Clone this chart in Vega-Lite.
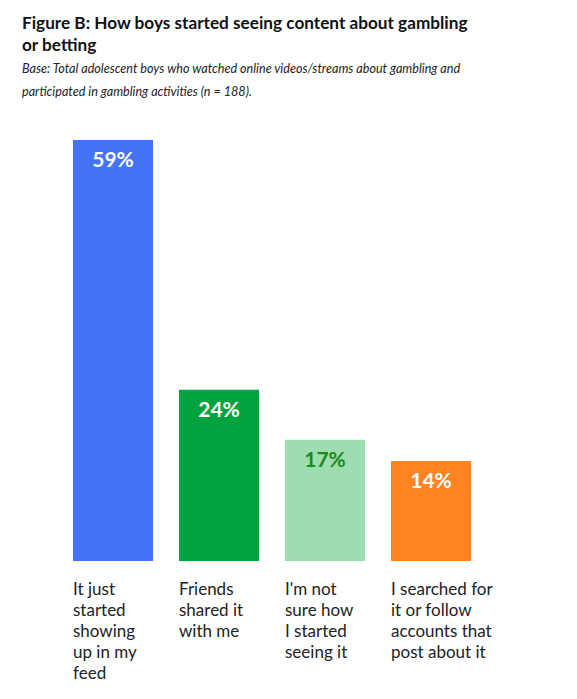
{
  "$schema": "https://vega.github.io/schema/vega-lite/v6.json",
  "autosize": "none",
  "width": 424,
  "height": 421,
  "padding": {"top": 140, "left": 60, "right": 93, "bottom": 138},
  "background": "white",
  "config": {
    "font": "Lato",
    "view": {"stroke": null}
  },
  "title": {
    "text": ["Figure B: How boys started seeing content about gambling", "or betting"],
    "subtitle": ["Base: Total adolescent boys who watched online videos/streams about gambling and", "participated in gambling activities (n = 188)."],
    "anchor": "start",
    "frame": "group",
    "dx": -38,
    "offset": 41,
    "font": "Lato",
    "fontSize": 17.2,
    "fontWeight": "bold",
    "color": "#111111",
    "lineHeight": 22,
    "subtitleFont": "Lato",
    "subtitleFontSize": 12.6,
    "subtitleFontStyle": "italic",
    "subtitleColor": "#222222",
    "subtitleLineHeight": 23,
    "subtitlePadding": 9
  },
  "data": {
    "values": [
      {"source": "It just started showing up in my feed", "percent": 59},
      {"source": "Friends shared it with me", "percent": 24},
      {"source": "I'm not sure how I started seeing it", "percent": 17},
      {"source": "I searched for it or follow accounts that post about it", "percent": 14}
    ]
  },
  "encoding": {
    "x": {
      "field": "source",
      "type": "nominal",
      "sort": null,
      "title": null,
      "scale": {"paddingInner": 0.245, "paddingOuter": 0.1225},
      "axis": {
        "domain": false,
        "ticks": false,
        "tickSize": 0,
        "labelAngle": 0,
        "labelAlign": "left",
        "labelBaseline": "top",
        "labelOffset": -40,
        "labelPadding": 20,
        "labelFont": "Lato",
        "labelFontSize": 17,
        "labelLineHeight": 21,
        "labelColor": "#222222",
        "labelLimit": 0,
        "labelExpr": "datum.value == 'It just started showing up in my feed' ? ['It just', 'started', 'showing', 'up in my', 'feed'] : datum.value == 'Friends shared it with me' ? ['Friends', 'shared it', 'with me'] : datum.value == \"I'm not sure how I started seeing it\" ? [\"I'm not\", 'sure how', 'I started', 'seeing it'] : ['I searched for', 'it or follow', 'accounts that', 'post about it']"
      }
    },
    "y": {
      "field": "percent",
      "type": "quantitative",
      "scale": {"domain": [0, 59], "nice": false},
      "axis": null
    }
  },
  "layer": [
    {
      "mark": {"type": "bar"},
      "encoding": {
        "color": {
          "field": "source",
          "type": "nominal",
          "sort": null,
          "legend": null,
          "scale": {
            "domain": ["It just started showing up in my feed", "Friends shared it with me", "I'm not sure how I started seeing it", "I searched for it or follow accounts that post about it"],
            "range": ["#4473F7", "#00A33D", "#9EDDAF", "#FF8223"]
          }
        }
      }
    },
    {
      "transform": [{"calculate": "datum.percent + '%'", "as": "label"}],
      "mark": {"type": "text", "baseline": "top", "dy": 10, "fontSize": 21, "fontWeight": "bold", "font": "Lato"},
      "encoding": {
        "text": {"field": "label", "type": "nominal"},
        "color": {
          "condition": {"test": "datum.percent == 17", "value": "#1B8A1F"},
          "value": "white"
        }
      }
    }
  ]
}
